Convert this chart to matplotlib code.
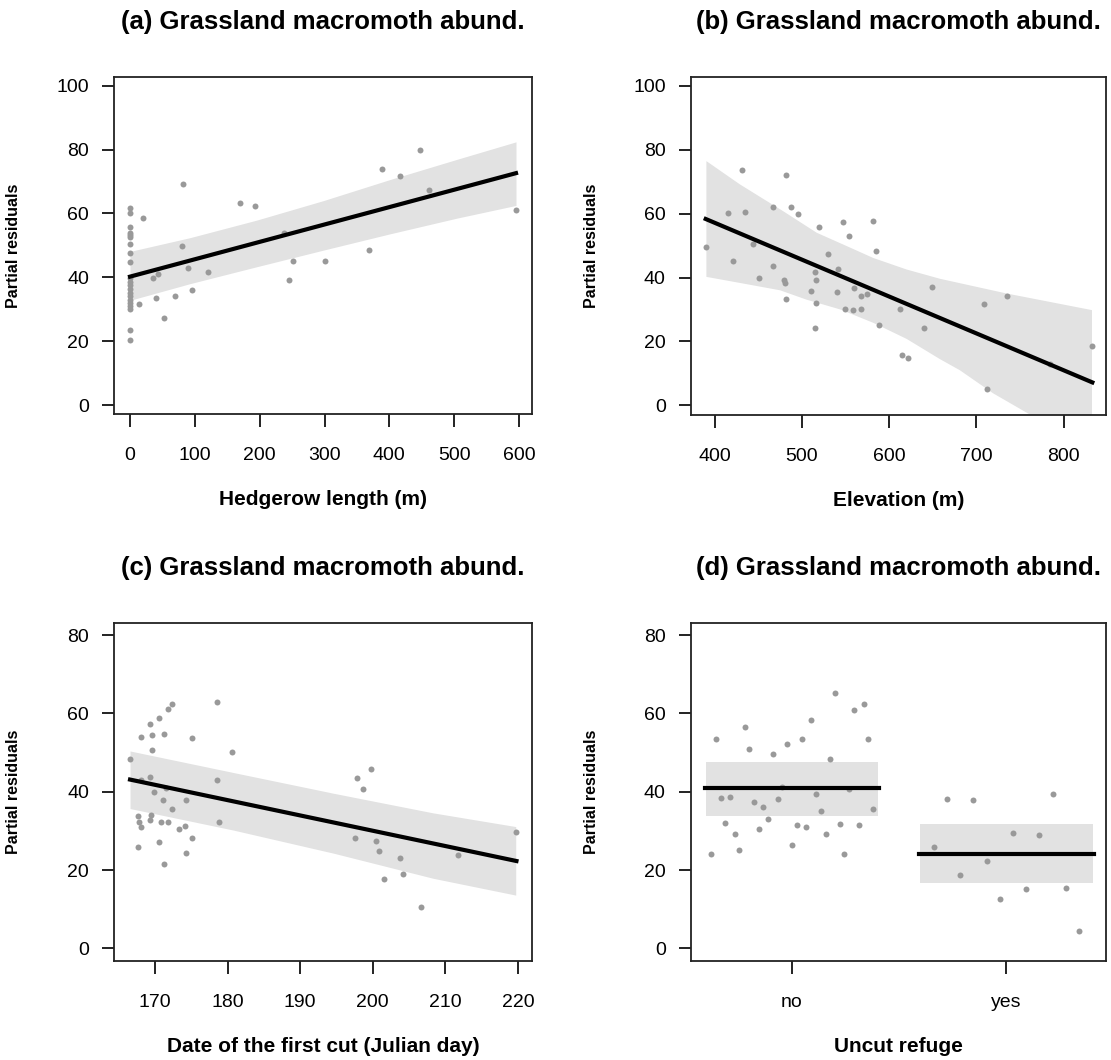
import numpy as np
import matplotlib.pyplot as plt

plt.rcParams['font.family'] = ['Liberation Sans', 'DejaVu Sans']

# ---- (a) hedgerow length
hedge_x = [0.0] * 21 + [20.6, 81.7, 79.7, 36, 43.7, 14.4, 40.6, 53, 68.9, 88.9, 96.1, 120.3,
                        169.7, 192.3, 238, 252, 245, 301, 368.6, 388, 416, 447, 461.7, 595.4]
hedge_y = [61.8, 60.2, 55.8, 54.0, 53.2, 52.6, 50.3, 47.6, 44.9, 39.9, 38.5, 37.5, 36.3, 35.0,
           34.2, 32.9, 32.1, 31.0, 30.0, 23.4, 20.4,
           58.6, 69.1, 49.8, 39.7, 41.1, 31.6, 33.4, 27.3, 34.2, 42.8, 36.0, 41.5,
           63.4, 62.2, 53.75, 45.2, 39.2, 45.0, 48.6, 74.0, 71.6, 79.8, 67.3, 61.1]
hedge_fit_x = [0, 595.4]
hedge_fit_y = [40.2, 72.6]
hedge_band_x = [0, 92.5, 195.4, 298.2, 401, 503.9, 595.4]
hedge_band_hi = [48.1, 52.4, 57.9, 64.0, 70.6, 76.9, 82.4]
hedge_band_lo = [32.8, 38.0, 43.3, 48.5, 53.6, 58.5, 62.5]

# ---- (b) elevation
elev_x = [390.5, 414.9, 421.4, 430.9, 434.4, 444.3, 451.2, 466.5, 466.5, 479.1, 481.0, 481.4,
          481.8, 487.9, 495.9, 510.0, 515.4, 515.7, 516.5, 515.4, 519.6, 530.3, 541.0, 540.6,
          546.7, 549.7, 553.6, 558.1, 559.7, 567.7, 568.1, 574.2, 581.4, 585.3, 588.7, 612.8,
          614.7, 621.2, 639.5, 649.0, 708.6, 711.7, 734.6, 784.3, 832.4]
elev_y = [49.4, 60.1, 45.3, 73.6, 60.6, 50.5, 39.7, 62.1, 43.5, 39.2, 38.4, 72.2, 33.2, 62.2,
          60.0, 35.7, 41.6, 39.1, 32.1, 24.2, 55.9, 47.5, 42.8, 35.6, 57.5, 30.1, 53.0, 29.8,
          36.7, 34.3, 30.0, 34.7, 57.7, 48.3, 25.1, 30.0, 15.7, 14.9, 24.2, 37.1, 31.8, 5.2,
          34.2, 13.1, 18.5]
elev_fit_x = [389.7, 832.8]
elev_fit_y = [58.3, 7.2]
elev_hi_x = [390.5, 429, 478.7, 516.9, 547.4, 581.8, 620, 658.2, 696.4, 734.6, 832.4]
elev_hi_y = [76.4, 69.1, 60.7, 54.0, 50.3, 46.1, 42.5, 39.6, 37.3, 35.0, 29.8]
elev_lo_x = [390.5, 429, 475, 505, 544, 582, 620, 658, 681, 719, 759, 832.4]
elev_lo_y = [40.2, 38.3, 36.0, 33.1, 30.0, 25.8, 20.8, 14.5, 11.0, 3.8, -2.5, -13.9]

# ---- (c) date of first cut
cut_x = [166.56, 168.07, 169.3, 169.54, 169.54, 170.6, 171.8, 172.3, 171.3, 175.05, 178.6, 180.6,
         169.3, 168.07, 169.8, 171.05, 171.5, 174.3, 172.3, 167.6, 167.8, 168.07, 169.3, 169.5,
         170.8, 171.8, 173.3, 174.1, 175.05, 170.6, 167.6, 174.3, 171.3, 178.6, 178.8, 197.8,
         199.8, 198.6, 197.6, 200.5, 200.8, 201.5, 203.8, 204.1, 206.6, 211.8, 219.7]
cut_y = [48.4, 54.0, 57.3, 54.5, 50.6, 58.9, 61.1, 62.3, 54.8, 53.8, 62.8, 50.2, 43.8, 43.0,
         39.8, 37.8, 41.0, 37.9, 35.5, 33.8, 32.3, 31.0, 32.7, 34.1, 32.3, 32.3, 30.6, 31.2,
         28.2, 27.1, 26.0, 24.3, 21.5, 43.1, 32.3, 43.5, 45.8, 40.7, 28.3, 27.3, 24.9, 17.7,
         23.1, 19.0, 10.6, 23.8, 29.7]
cut_fit_x = [166.56, 219.8]
cut_fit_y = [43.1, 22.3]
cut_band_x = [166.56, 180.8, 194.6, 208.3, 219.7]
cut_band_hi = [50.4, 44.9, 39.6, 34.6, 31.1]
cut_band_lo = [35.7, 30.2, 24.3, 17.9, 13.6]

# ---- (d) uncut refuge (x = jittered category position)
refuge_levels = ['no', 'yes']
no_x = [0.647, 0.624, 0.669, 0.714, 0.692, 0.736, 0.757, 0.781, 0.802, 0.824, 0.848, 0.869,
        0.891, 0.914, 0.936, 0.958, 0.980, 1.002, 1.025, 1.047, 1.068, 1.092, 1.114, 1.136,
        1.159, 1.181, 1.202, 1.226, 1.247, 1.269, 1.291, 1.314, 1.336, 1.359, 1.381]
no_y = [53.4, 24.2, 38.5, 38.7, 32.1, 29.2, 25.1, 56.6, 51.0, 37.4, 30.6, 36.1, 33.0, 49.6,
        38.2, 41.3, 52.3, 26.4, 31.5, 53.4, 31.1, 58.2, 39.4, 35.0, 29.3, 48.3, 65.3, 31.7,
        24.1, 40.7, 60.9, 31.5, 62.3, 53.4, 35.5]
yes_x = [1.664, 1.725, 1.787, 1.848, 1.910, 1.972, 2.033, 2.095, 2.156, 2.218, 2.280, 2.341]
yes_y = [26.0, 38.2, 18.8, 37.8, 22.2, 12.7, 29.5, 15.2, 28.9, 39.4, 15.3, 4.4]
refuge_fit = [40.85, 24.2]
refuge_hi = [47.6, 31.7]
refuge_lo = [33.9, 16.8]

W, H = 1111, 1060
fig = plt.figure(figsize=(W / 100, H / 100), dpi=100)

PT_COL = '#999999'
BAND_COL = '#e2e2e2'


def make_ax(left, right, top, bottom):
    ax = fig.add_axes([left / W, 1 - bottom / H, (right - left) / W, (bottom - top) / H])
    for s in ax.spines.values():
        s.set_linewidth(1.3)
        s.set_color('#222222')
    ax.tick_params(direction='out', length=9, width=1.4, labelsize=14, color='#222222')
    ax.tick_params(axis='x', pad=15)
    ax.tick_params(axis='y', pad=9)
    ax.set_ylabel('Partial residuals', fontsize=11.5, fontweight='bold')
    ax.yaxis.set_label_coords(-0.222, 0.5)
    return ax


def finish(ax, title, xlabel, left, right, top):
    fig.text((left + right) / 2 / W, 1 - (top - 55) / H, title, ha='center', va='center',
             fontsize=18.5, fontweight='bold')
    ax.set_xlabel(xlabel, fontsize=15, fontweight='bold', va='center')
    ax.xaxis.set_label_coords(0.5, -0.255)


# (a)
ax = make_ax(114, 531.7, 77, 414)
ax.fill_between(hedge_band_x, hedge_band_lo, hedge_band_hi, color=BAND_COL, lw=0)
ax.plot(hedge_x, hedge_y, 'o', color=PT_COL, ms=4.3, mew=0)
ax.plot(hedge_fit_x, hedge_fit_y, color='black', lw=3)
ax.set_xlim(-24.7, 619.6)
ax.set_ylim(-2.8, 102.7)
ax.set_xticks(range(0, 601, 100))
ax.set_yticks(range(0, 101, 20))
finish(ax, '(a) Grassland macromoth abund.', 'Hedgerow length (m)', 114, 531.7, 77)

# (b)
ax = make_ax(690.7, 1105.7, 77, 414.7)
band_x = elev_hi_x + elev_lo_x[::-1]
band_y = elev_hi_y + elev_lo_y[::-1]
ax.fill(band_x, band_y, color=BAND_COL, lw=0)
ax.plot(elev_x, elev_y, 'o', color=PT_COL, ms=4.3, mew=0)
ax.plot(elev_fit_x, elev_fit_y, color='black', lw=3)
ax.set_xlim(372.5, 848.1)
ax.set_ylim(-2.9, 102.7)
ax.set_xticks(range(400, 801, 100))
ax.set_yticks(range(0, 101, 20))
finish(ax, '(b) Grassland macromoth abund.', 'Elevation (m)', 690.7, 1105.7, 77)

# (c)
ax = make_ax(114, 531.7, 623.3, 960.7)
ax.fill_between(cut_band_x, cut_band_lo, cut_band_hi, color=BAND_COL, lw=0)
ax.plot(cut_x, cut_y, 'o', color=PT_COL, ms=4.3, mew=0)
ax.plot(cut_fit_x, cut_fit_y, color='black', lw=3)
ax.set_xlim(164.35, 221.9)
ax.set_ylim(-3.15, 83.0)
ax.set_xticks(range(170, 221, 10))
ax.set_yticks(range(0, 81, 20))
finish(ax, '(c) Grassland macromoth abund.', 'Date of the first cut (Julian day)', 114, 531.7, 623.3)

# (d)
ax = make_ax(690.7, 1105.7, 623.3, 960.7)
for i in range(len(refuge_levels)):
    pos = i + 1
    ax.fill_between([pos - 0.4, pos + 0.405], refuge_lo[i], refuge_hi[i], color=BAND_COL, lw=0)
ax.plot(no_x, no_y, 'o', color=PT_COL, ms=4.3, mew=0)
ax.plot(yes_x, yes_y, 'o', color=PT_COL, ms=4.3, mew=0)
for i in range(len(refuge_levels)):
    pos = i + 1
    ax.plot([pos - 0.405, pos + 0.41], [refuge_fit[i]] * 2, color='black', lw=3)
ax.set_xlim(0.53, 2.465)
ax.set_ylim(-3.15, 83.0)
ax.set_xticks([1, 2])
ax.set_xticklabels(refuge_levels)
ax.set_yticks(range(0, 81, 20))
finish(ax, '(d) Grassland macromoth abund.', 'Uncut refuge', 690.7, 1105.7, 623.3)

fig.savefig('out.png', dpi=100)
